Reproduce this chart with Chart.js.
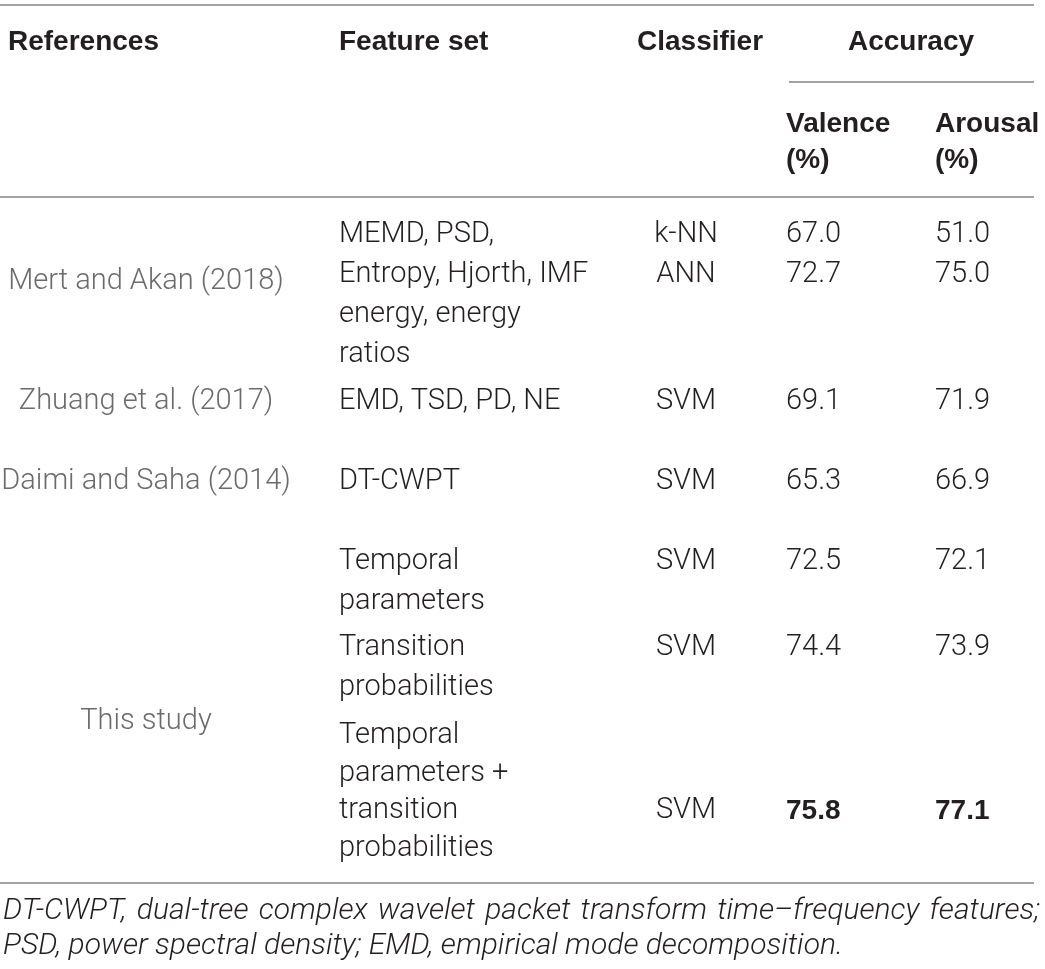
<!DOCTYPE html>
<html>
<head>
<meta charset="utf-8">
<script src="https://cdn.jsdelivr.net/npm/chart.js@4.4.1/dist/chart.umd.min.js"></script>
<style>
  html, body { margin: 0; padding: 0; background: #fff; }
  #wrap { width: 1045px; height: 969px; position: relative; }
</style>
</head>
<body>
<div id="wrap"><canvas id="table"></canvas></div>
<script>
// table content
const headers = ['References', 'Feature set', 'Classifier', 'Accuracy'];
const subHeaders = [['Valence', '(%)'], ['Arousal', '(%)']];
const references = ['Mert and Akan (2018)', 'Zhuang et al. (2017)', 'Daimi and Saha (2014)', 'This study'];
const featureSets = [
  ['MEMD, PSD,', 'Entropy, Hjorth, IMF', 'energy, energy', 'ratios'],
  ['EMD, TSD, PD, NE'],
  ['DT-CWPT'],
  ['Temporal', 'parameters'],
  ['Transition', 'probabilities'],
  ['Temporal', 'parameters +', 'transition', 'probabilities'],
];
const classifiers = ['k-NN', 'ANN', 'SVM', 'SVM', 'SVM', 'SVM', 'SVM'];
const valence = [67.0, 72.7, 69.1, 65.3, 72.5, 74.4, 75.8];
const arousal = [51.0, 75.0, 71.9, 66.9, 72.1, 73.9, 77.1];
const resultRow = [0, 0, 1, 2, 3, 4, 5];   // which feature row each result sits in
const resultLine = [0, 1, 0, 0, 0, 0, 2];  // which line of that row
const bestResult = 6;
const footnote = [
  'DT-CWPT, dual-tree complex wavelet packet transform time\u2013frequency features;',
  'PSD, power spectral density; EMD, empirical mode decomposition.',
];

// layout (in page units, mapped through the chart scales)
const W = 1045, H = 969;
const colX = { ref: 146, feat: 339, clf: 686, val: 786, aro: 935 };
const headY = 42, subY = [124, 160];
const rowTop = [235, 402, 482, 562, 648, 736];
const rowStep = [40, 40, 40, 40, 40, 37.5];
const refY = [282, 402, 482, 722];
const noteY = [911, 946];
const ruleColor = '#a3a3a3';

const ink = '#231f20';
const grey = '#6b6b6b';
const bodyFont = '300 29px Roboto, "Liberation Sans", sans-serif';
const boldFont = 'bold 28px "Liberation Sans", Arial, sans-serif';
const noteFont = 'italic 300 30px Roboto, "Liberation Sans", sans-serif';

function lineY(row, line) {
  return rowTop[row] + rowStep[row] * line;
}

function textSet(points, texts, opts) {
  return Object.assign({
    data: points,
    texts: texts,
    pointRadius: 0,
    showLine: false,
    textColor: ink,
    font: bodyFont,
    align: 'left',
  }, opts);
}

function rule(x1, x2, y) {
  return {
    data: [{ x: x1, y: y }, { x: x2, y: y }],
    showLine: true,
    borderColor: ruleColor,
    borderWidth: 2,
    pointRadius: 0,
  };
}

const datasets = [
  rule(0, 1034, 5),
  rule(789, 1034, 82),
  rule(0, 1034, 197),
  rule(0, 1034, 883),
];

// header
datasets.push(textSet(
  [{ x: 8, y: headY }, { x: colX.feat, y: headY }, { x: 637, y: headY }],
  headers.slice(0, 3), { font: boldFont }));
datasets.push(textSet([{ x: 911, y: headY }], [headers[3]], { font: boldFont, align: 'center' }));
datasets.push(textSet(
  [{ x: colX.val, y: subY[0] }, { x: colX.val, y: subY[1] }, { x: colX.aro, y: subY[0] }, { x: colX.aro, y: subY[1] }],
  [subHeaders[0][0], subHeaders[0][1], subHeaders[1][0], subHeaders[1][1]], { font: boldFont }));

// references column
datasets.push(textSet(references.map((r, i) => ({ x: colX.ref, y: refY[i] })), references,
  { textColor: grey, align: 'center' }));

// feature sets
const featPts = [], featTxt = [];
featureSets.forEach((lines, r) => lines.forEach((t, l) => {
  featPts.push({ x: colX.feat, y: lineY(r, l) });
  featTxt.push(t);
}));
datasets.push(textSet(featPts, featTxt));

// classifier + accuracies
datasets.push(textSet(classifiers.map((c, i) => ({ x: colX.clf, y: lineY(resultRow[i], resultLine[i]) })),
  classifiers, { align: 'center' }));
['val', 'aro'].forEach((col, k) => {
  const vals = k === 0 ? valence : arousal;
  datasets.push(textSet(vals.map((v, i) => ({ x: colX[col], y: lineY(resultRow[i], resultLine[i]) })),
    vals.map(v => v.toFixed(1)),
    { fonts: vals.map((v, i) => i === bestResult ? boldFont : bodyFont) }));
});

// footnote
datasets.push(textSet([{ x: 3, y: noteY[0] }, { x: 3, y: noteY[1] }], footnote,
  { font: noteFont, justify: [1040, null] }));

const cellText = {
  id: 'cellText',
  afterDatasetsDraw(chart) {
    const ctx = chart.ctx;
    chart.data.datasets.forEach((ds, i) => {
      if (!ds.texts) return;
      const meta = chart.getDatasetMeta(i);
      ctx.save();
      ctx.fillStyle = ds.textColor;
      ctx.textBaseline = 'middle';
      ctx.textAlign = ds.align;
      meta.data.forEach((pt, j) => {
        ctx.font = ds.fonts ? ds.fonts[j] : ds.font;
        const right = ds.justify && ds.justify[j];
        if (right) {
          // spread words to fill the line
          const words = ds.texts[j].split(' ');
          const widths = words.map(w => ctx.measureText(w).width);
          const total = widths.reduce((a, b) => a + b, 0);
          const xr = chart.scales.x.getPixelForValue(right);
          const gap = (xr - pt.x - total) / (words.length - 1);
          let x = pt.x;
          words.forEach((w, k) => {
            ctx.fillText(w, x, pt.y);
            x += widths[k] + gap;
          });
        } else {
          ctx.fillText(ds.texts[j], pt.x, pt.y);
        }
      });
      ctx.restore();
    });
  }
};

new Chart(document.getElementById('table'), {
  type: 'scatter',
  data: { datasets: datasets },
  options: {
    responsive: true,
    maintainAspectRatio: false,
    animation: false,
    layout: { padding: 0 },
    scales: {
      x: { type: 'linear', min: 0, max: W, display: false },
      y: { type: 'linear', min: 0, max: H, reverse: true, display: false },
    },
    plugins: {
      legend: { display: false },
      tooltip: { enabled: false },
    },
  },
  plugins: [cellText],
});
</script>
</body>
</html>
